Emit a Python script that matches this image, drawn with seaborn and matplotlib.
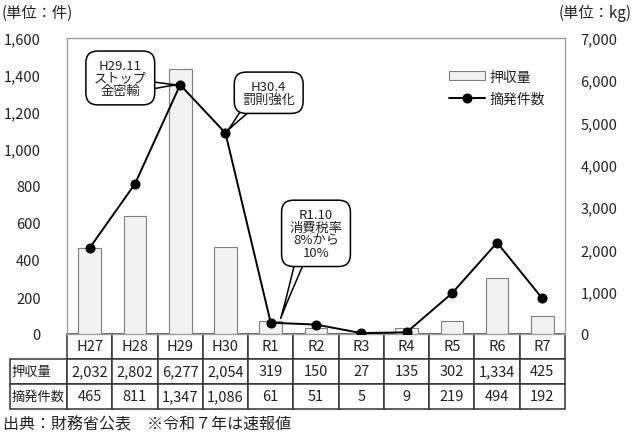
import numpy as np
import pandas as pd
import matplotlib
matplotlib.use("Agg")
import matplotlib.pyplot as plt
import seaborn as sns

years = ["H27", "H28", "H29", "H30", "R1", "R2", "R3", "R4", "R5", "R6", "R7"]
seized_kg = [2032, 2802, 6277, 2054, 319, 150, 27, 135, 302, 1334, 425]
cases = [465, 811, 1347, 1086, 61, 51, 5, 9, 219, 494, 192]
row_labels = ["押収量", "摘発件数"]
left_ticks = [0, 200, 400, 600, 800, 1000, 1200, 1400, 1600]
right_ticks = [0, 1000, 2000, 3000, 4000, 5000, 6000, 7000]

sns.set_style("white")
plt.rcParams["font.family"] = ["Noto Sans CJK JP", "DejaVu Sans"]
plt.rcParams["text.color"] = "#222222"
plt.rcParams["ytick.color"] = "#222222"

df = pd.DataFrame({"year": years, "kg": seized_kg, "cases": cases, "i": np.arange(len(years))})

fig = plt.figure(figsize=(6.35, 4.39), dpi=100)
ax = fig.add_axes([67 / 635, 1 - 335 / 439, 498 / 635, 296 / 439])

# bars (right axis, kg)
sns.barplot(data=df, x="year", y="kg", ax=ax, color="#f2f2f2", edgecolor="#7f7f7f",
            linewidth=0.8, width=0.5, saturation=1)
ax.set_ylim(0, 7000)
ax.set_xlim(-0.5, len(years) - 0.5)
ax.set_xticks([])
ax.set_xlabel("")
ax.set_ylabel("")
for s in ax.spines.values():
    s.set_color("#a0a0a0")
    s.set_linewidth(1)

# line (left axis, cases)
ax2 = ax.twinx()
sns.lineplot(data=df, x="i", y="cases", ax=ax2, color="black", linewidth=1.4,
             marker="o", markersize=6.5, markeredgecolor="black")
ax2.set_ylim(0, 1600)
ax2.set_xlim(-0.5, len(years) - 0.5)
ax2.set_xlabel("")
ax2.set_ylabel("")
for s in ax2.spines.values():
    s.set_visible(False)

# swap sides: kg on the right, cases on the left
ax.yaxis.tick_right()
ax.set_yticks(right_ticks)
ax.set_yticklabels([f"{v:,}" for v in right_ticks])
ax.tick_params(axis="y", length=0, pad=11, labelsize=10.5)
ax2.yaxis.tick_left()
ax2.set_yticks(left_ticks)
ax2.set_yticklabels([f"{v:,}" for v in left_ticks])
ax2.tick_params(axis="y", length=0, pad=19, labelsize=10.5)

# legend
h1 = ax.patches[0]
h2 = ax2.lines[0]
ax2.legend([h1, h2], ["押収量", "摘発件数"], loc="upper right", bbox_to_anchor=(0.985, 0.935),
           frameon=False, fontsize=10, handlelength=2.6, handleheight=0.6, labelspacing=0.6,
           handletextpad=0.3)

# callouts
box = dict(boxstyle="round,pad=0.6,rounding_size=0.9", fc="white", ec="black", lw=1.1)
wedge = dict(fc="white", ec="black", lw=1.1, patchA=None)
ax2.annotate("H29.11\nストップ\n金密輸", xy=(2, cases[2]), xytext=(0.107, 0.865),
             textcoords="axes fraction", ha="center", va="center", fontsize=9.5, linespacing=0.95,
             bbox=box, arrowprops=dict(arrowstyle="wedge,tail_width=0.8,shrink_factor=0.4",
                                       relpos=(0.9, 0.3), **wedge))
ax2.annotate("H30.4\n罰則強化", xy=(3, cases[3]), xytext=(0.405, 0.815),
             textcoords="axes fraction", ha="center", va="center", fontsize=9.5, linespacing=0.95,
             bbox=box, arrowprops=dict(arrowstyle="wedge,tail_width=0.8,shrink_factor=0.4",
                                       relpos=(0.2, 0.15), **wedge))
ax2.annotate("R1.10\n消費税率\n8%から\n10%", xy=(4.2, 70), xytext=(0.5, 0.34),
             textcoords="axes fraction", ha="center", va="center", fontsize=9.5, linespacing=0.95,
             bbox=box, arrowprops=dict(arrowstyle="wedge,tail_width=0.8,shrink_factor=0.4",
                                       relpos=(0.25, 0.12), **wedge))

# data table
cell_text = [[row_labels[0]] + [f"{v:,}" for v in seized_kg],
             [row_labels[1]] + [f"{v:,}" for v in cases]]
col_w = [57 / 555] + [498 / 11 / 555] * len(years)
tbl = ax.table(cellText=cell_text, colLabels=[""] + years, colWidths=col_w,
               cellLoc="center", bbox=[-57 / 498, -75 / 296, 555 / 498, 75 / 296])
tbl.auto_set_font_size(False)
tbl.set_fontsize(10.5)
for (r, c), cell in tbl.get_celld().items():
    cell.set_edgecolor("#333333")
    cell.set_linewidth(1.1)
    if r == 0 and c == 0:
        cell.visible_edges = "open"
    if c == 0 and r > 0:
        cell.get_text().set_ha("left")
        cell.get_text().set_fontsize(9.5)
        cell.PAD = 0.03

# unit labels and source
fig.text(2 / 635, 1 - 13 / 439, "(単位：件)", fontsize=11, va="center", ha="left")
fig.text(632 / 635, 1 - 13 / 439, "(単位：kg)", fontsize=11, va="center", ha="right")
fig.text(3 / 635, 1 - 425 / 439, "出典：財務省公表　※令和７年は速報値", fontsize=11.5,
         va="center", ha="left")

fig.savefig("out.png", dpi=100)
